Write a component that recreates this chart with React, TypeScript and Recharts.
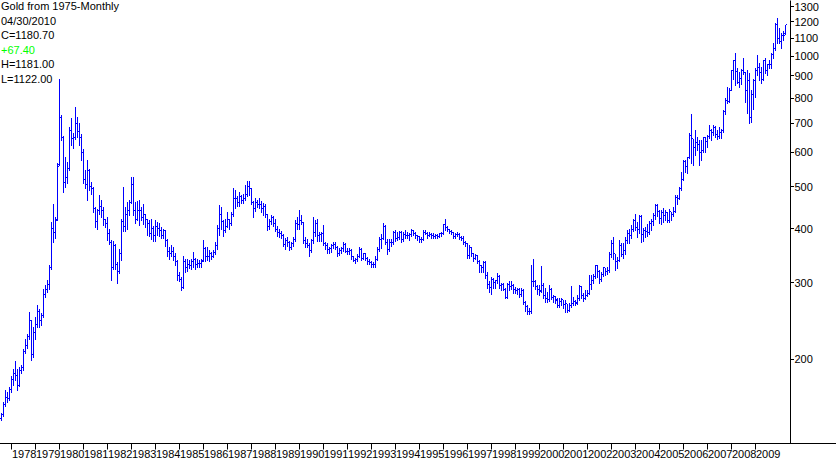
import React from 'react'
import { ComposedChart, Bar, Line, XAxis, YAxis } from 'recharts'

// ─── Layout / style ───────────────────────────────────────────────────────
const WIDTH = 836
const HEIGHT = 461
const BAR_COLOR = '#0000ff'
const FONT = '"Liberation Sans", Arial, sans-serif'

// ─── Data ─────────────────────────────────────────────────────────────────
// monthly bars, first one is Aug 1977
const START_YEAR = 1977
const START_MONTH = 8

const YEAR_TICKS = [
  1978, 1979, 1980, 1981, 1982, 1983, 1984, 1985, 1986, 1987, 1988, 1989, 1990, 1991, 1992, 1993,
  1994, 1995, 1996, 1997, 1998, 1999, 2000, 2001, 2002, 2003, 2004, 2005, 2006, 2007, 2008, 2009,
]
const PRICE_TICKS = [200, 300, 400, 500, 600, 700, 800, 900, 1000, 1100, 1200, 1300]
const PRICE_DOMAIN = [127.7, 1344]

const HEADER = ['Gold from 1975-Monthly', '04/30/2010', 'C=1180.70', '+67.40', 'H=1181.00', 'L=1122.00']

const OPEN = [
  146, 149, 157, 163, 162,
  170, 179, 185, 183, 174, 188, 191, 208, 215, 226, 245, 205,
  230, 240, 257, 245, 252, 282, 290, 298, 325, 400, 392, 420,
  562, 720, 650, 510, 525, 550, 675, 645, 650, 700, 670, 650,
  600, 520, 505, 545, 500, 495, 445, 415, 440, 450, 440, 420,
  410, 390, 372, 325, 365, 330, 318, 350, 415, 405, 430, 440,
  460, 505, 440, 420, 440, 440, 425, 430, 420, 410, 390, 400,
  385, 405, 400, 395, 385, 395, 375, 355, 350, 355, 345, 335,
  312, 305, 293, 335, 325, 330, 328, 335, 340, 330, 333, 332,
  338, 360, 345, 345, 350, 345, 352, 365, 400, 430, 415, 395,
  405, 420, 410, 430, 470, 470, 460, 475, 465, 470, 480, 500,
  495, 460, 445, 460, 455, 455, 445, 450, 430, 405, 415, 425,
  412, 398, 392, 390, 385, 368, 375, 372, 362, 370, 378, 412,
  408, 418, 414, 375, 370, 366, 356, 375, 392, 412, 385, 388,
  390, 370, 365, 358, 360, 365, 368, 362, 350, 356, 360, 368,
  355, 354, 356, 344, 338, 340, 345, 358, 342, 350, 342, 336,
  334, 330, 330, 340, 358, 378, 380, 405, 372, 358, 372, 372,
  392, 380, 382, 392, 377, 388, 386, 385, 387, 396, 390, 385,
  384, 377, 378, 392, 390, 386, 388, 385, 384, 385, 384, 389,
  389, 408, 402, 398, 394, 392, 384, 387, 388, 381, 380, 372,
  370, 346, 362, 350, 342, 346, 336, 328, 326, 334, 312, 298,
  292, 305, 300, 303, 310, 295, 298, 290, 278, 298, 294, 296,
  290, 288, 290, 282, 288, 270, 264, 258, 257, 302, 302, 294,
  290, 288, 295, 280, 276, 274, 290, 278, 279, 273, 266, 271,
  274, 267, 268, 259, 266, 268, 272, 270, 276, 294, 280, 276,
  280, 284, 298, 304, 310, 328, 318, 305, 313, 325, 318, 320,
  348, 370, 350, 336, 338, 365, 348, 356, 376, 390, 386, 398,
  417, 402, 398, 427, 388, 396, 394, 392, 410, 416, 428, 452,
  438, 423, 436, 428, 436, 417, 437, 430, 438, 472, 470, 496,
  518, 570, 557, 585, 655, 645, 615, 633, 625, 600, 605, 648,
  635, 652, 672, 668, 683, 660, 652, 668, 672, 745, 790, 785,
  835, 925, 975, 920, 870, 888, 925, 915, 832, 880, 720, 815,
  880, 928, 942, 918, 885, 978, 928, 955, 955, 1008, 1042, 1180,
  1097, 1082, 1118, 1125,
]

const HIGH = [
  150, 159, 170, 168, 172,
  183, 190, 198, 190, 192, 194, 211, 222, 229, 257, 246, 237,
  250, 266, 261, 256, 290, 296, 305, 330, 415, 455, 425, 566,
  886, 730, 655, 586, 570, 687, 718, 665, 764, 725, 700, 660,
  610, 546, 576, 550, 512, 500, 448, 445, 478, 465, 448, 422,
  426, 400, 376, 375, 368, 335, 358, 420, 500, 448, 460, 465,
  527, 527, 460, 462, 465, 448, 455, 432, 422, 418, 422, 405,
  418, 415, 412, 404, 400, 398, 378, 363, 367, 363, 352, 338,
  318, 310, 345, 340, 340, 338, 340, 354, 342, 340, 338, 340,
  376, 362, 363, 357, 354, 357, 373, 407, 453, 449, 418, 422,
  437, 422, 437, 496, 492, 476, 487, 478, 482, 505, 515, 515,
  496, 462, 470, 466, 470, 462, 458, 455, 432, 420, 430, 428,
  420, 405, 400, 395, 388, 380, 382, 375, 372, 382, 418, 425,
  442, 430, 415, 382, 378, 370, 378, 425, 418, 420, 392, 392,
  408, 372, 370, 363, 368, 372, 372, 364, 360, 362, 372, 370,
  360, 360, 358, 346, 343, 350, 363, 360, 352, 352, 344, 340,
  336, 335, 345, 362, 382, 388, 412, 408, 378, 378, 378, 395,
  396, 392, 395, 395, 392, 398, 392, 390, 400, 398, 393, 387,
  385, 382, 396, 396, 392, 392, 390, 390, 388, 388, 390, 392,
  410, 422, 406, 400, 397, 393, 390, 392, 390, 385, 385, 375,
  370, 366, 362, 352, 350, 348, 338, 330, 336, 336, 318, 302,
  310, 308, 305, 316, 312, 300, 300, 292, 300, 302, 302, 298,
  294, 292, 292, 292, 290, 272, 266, 262, 330, 340, 305, 296,
  296, 328, 299, 291, 286, 297, 292, 281, 280, 276, 276, 276,
  274, 273, 268, 269, 295, 278, 273, 281, 297, 295, 284, 289,
  289, 312, 312, 315, 330, 330, 321, 318, 327, 325, 327, 354,
  377, 383, 350, 344, 377, 370, 370, 383, 397, 400, 408, 422,
  433, 414, 430, 430, 401, 404, 410, 417, 421, 434, 457, 457,
  441, 441, 447, 441, 438, 445, 438, 448, 478, 478, 500, 541,
  576, 576, 586, 664, 734, 645, 675, 652, 640, 640, 652, 652,
  658, 693, 680, 693, 690, 675, 687, 680, 751, 799, 850, 843,
  929, 980, 1015, 937, 921, 935, 988, 921, 929, 916, 835, 888,
  937, 1006, 962, 945, 980, 988, 961, 980, 1015, 1070, 1195, 1226,
  1163, 1128, 1140, 1181,
]

const LOW = [
  145, 148, 156, 159, 161,
  168, 174, 179, 170, 173, 186, 189, 206, 212, 223, 199, 202,
  223, 237, 237, 240, 250, 278, 285, 290, 322, 372, 380, 418,
  560, 640, 487, 500, 510, 545, 624, 615, 645, 652, 624, 576,
  509, 495, 466, 491, 480, 437, 404, 400, 433, 426, 408, 404,
  376, 368, 305, 322, 322, 300, 316, 338, 395, 395, 400, 430,
  458, 430, 412, 418, 407, 418, 410, 404, 387, 384, 378, 375,
  375, 387, 384, 381, 380, 365, 345, 340, 345, 338, 330, 305,
  303, 289, 292, 318, 320, 324, 322, 326, 322, 326, 326, 326,
  336, 336, 338, 336, 341, 344, 350, 359, 387, 400, 384, 392,
  404, 400, 408, 428, 447, 450, 452, 458, 458, 465, 475, 478,
  455, 425, 440, 448, 447, 438, 430, 425, 398, 400, 410, 405,
  395, 385, 383, 380, 365, 358, 365, 357, 358, 365, 375, 400,
  400, 410, 370, 362, 362, 345, 354, 370, 385, 375, 375, 375,
  366, 358, 352, 352, 354, 360, 358, 346, 347, 352, 356, 353,
  350, 350, 340, 336, 334, 337, 344, 338, 340, 338, 332, 332,
  327, 326, 326, 338, 355, 360, 378, 368, 350, 355, 364, 368,
  375, 376, 378, 372, 374, 380, 380, 376, 385, 386, 380, 376,
  372, 372, 376, 388, 381, 384, 381, 380, 380, 380, 382, 384,
  388, 398, 394, 390, 388, 380, 380, 384, 378, 376, 368, 365,
  342, 342, 346, 336, 340, 334, 318, 318, 318, 308, 292, 286,
  282, 292, 292, 300, 292, 288, 288, 276, 276, 288, 290, 284,
  284, 282, 278, 279, 268, 258, 254, 254, 255, 295, 290, 282,
  281, 286, 276, 271, 271, 272, 275, 271, 269, 264, 264, 266,
  262, 257, 257, 258, 264, 266, 266, 268, 274, 276, 272, 275,
  279, 283, 290, 299, 308, 310, 299, 303, 311, 313, 315, 318,
  344, 341, 321, 325, 336, 346, 342, 350, 370, 370, 380, 395,
  398, 383, 390, 373, 374, 382, 385, 388, 398, 408, 422, 427,
  412, 410, 415, 418, 414, 415, 418, 428, 436, 457, 468, 491,
  518, 540, 537, 582, 566, 561, 592, 607, 561, 576, 602, 602,
  618, 648, 640, 658, 652, 643, 648, 646, 670, 737, 778, 785,
  835, 888, 857, 866, 850, 862, 910, 785, 738, 700, 706, 755,
  805, 905, 881, 867, 880, 913, 905, 937, 940, 988, 1035, 1075,
  1075, 1045, 1088, 1122,
]

const CLOSE = [
  149, 157, 163, 162, 170,
  179, 185, 183, 174, 188, 191, 208, 215, 226, 245, 205, 230,
  240, 257, 245, 252, 282, 290, 298, 325, 400, 392, 418, 555,
  720, 650, 510, 525, 550, 675, 645, 650, 700, 670, 650, 600,
  520, 505, 545, 500, 495, 445, 415, 440, 450, 440, 420, 410,
  390, 372, 325, 365, 330, 318, 350, 415, 405, 430, 440, 460,
  505, 440, 420, 440, 440, 425, 430, 420, 410, 390, 400, 385,
  405, 400, 395, 385, 395, 375, 355, 350, 355, 345, 335, 312,
  305, 293, 335, 325, 330, 328, 335, 340, 330, 333, 332, 335,
  360, 345, 345, 350, 345, 352, 365, 400, 430, 415, 395, 405,
  420, 410, 430, 470, 470, 460, 475, 465, 470, 480, 500, 495,
  460, 445, 460, 455, 455, 445, 450, 430, 405, 415, 425, 412,
  398, 392, 390, 385, 368, 375, 372, 362, 370, 378, 412, 408,
  418, 414, 375, 370, 366, 356, 375, 392, 412, 385, 388, 390,
  370, 365, 358, 360, 365, 368, 362, 350, 356, 360, 368, 355,
  354, 356, 344, 338, 340, 345, 358, 342, 350, 342, 336, 334,
  330, 330, 340, 358, 378, 380, 405, 372, 358, 372, 372, 392,
  380, 382, 392, 377, 388, 386, 385, 387, 396, 390, 385, 384,
  377, 378, 392, 390, 386, 388, 385, 384, 385, 384, 389, 389,
  408, 402, 398, 394, 392, 384, 387, 388, 381, 380, 372, 370,
  346, 362, 350, 342, 346, 336, 328, 326, 334, 312, 298, 292,
  305, 300, 303, 310, 295, 298, 290, 278, 298, 294, 296, 290,
  288, 290, 282, 288, 270, 264, 258, 257, 302, 302, 294, 290,
  286, 295, 280, 276, 274, 290, 278, 279, 275, 266, 271, 274,
  267, 268, 259, 266, 268, 272, 268, 276, 294, 280, 276, 280,
  284, 298, 304, 310, 328, 318, 305, 313, 325, 318, 320, 348,
  370, 350, 336, 338, 365, 348, 356, 376, 390, 386, 398, 417,
  402, 398, 427, 388, 396, 394, 392, 410, 416, 428, 452, 438,
  423, 436, 428, 436, 417, 437, 430, 438, 472, 470, 496, 518,
  570, 557, 585, 655, 645, 615, 633, 625, 600, 605, 648, 635,
  652, 672, 668, 683, 660, 652, 668, 672, 745, 790, 785, 835,
  925, 975, 920, 870, 888, 925, 915, 832, 880, 720, 815, 880,
  928, 942, 918, 885, 978, 928, 955, 955, 1008, 1042, 1180, 1097,
  1082, 1118, 1113, 1180.7,
]

// ─── Chart rows ───────────────────────────────────────────────────────────
function monthKey(i: number) {
  const t = START_MONTH - 1 + i
  const y = START_YEAR + Math.floor(t / 12)
  const m = (t % 12) + 1
  return `${y}-${String(m).padStart(2, '0')}`
}

const data = CLOSE.map((c, i) => ({
  month: monthKey(i),
  range: [LOW[i], HIGH[i]],
  open: OPEN[i],
  close: c,
}))

const xTicks = YEAR_TICKS.map((y) => `${y}-01`)

// ─── Shapes ───────────────────────────────────────────────────────────────
// high-low stem, 1px wide
function Stem(props: any) {
  const { x, y, width, height } = props
  if (x == null || y == null) return null
  const cx = Math.floor(x + width / 2)
  const top = Math.round(Math.min(y, y + height))
  const bottom = Math.round(Math.max(y, y + height))
  return <rect x={cx} y={top} width={1} height={Math.max(1, bottom - top + 1)} fill={BAR_COLOR} />
}

// open tick on the left, close tick on the right
const openTick = (p: any) => (
  <rect key={`o${p.index}`} x={Math.floor(p.cx) - 1} y={Math.floor(p.cy)} width={1} height={1} fill={BAR_COLOR} />
)
const closeTick = (p: any) => (
  <rect key={`c${p.index}`} x={Math.floor(p.cx) + 1} y={Math.floor(p.cy)} width={1} height={1} fill={BAR_COLOR} />
)

function YearTick({ x, y, payload }: any) {
  return (
    <text x={Math.floor(x) + 1} y={y + 8.5} fontSize={11} fontFamily={FONT} fill="#000">
      {String(payload.value).slice(0, 4)}
    </text>
  )
}

export default function App() {
  return (
    <div style={{ position: 'absolute', left: 0, top: 0, width: WIDTH, height: HEIGHT, background: '#fff' }}>
      <ComposedChart
        width={WIDTH}
        height={HEIGHT}
        data={data}
        margin={{ top: 0.5, right: 0, bottom: 0, left: 0.5 }}
        barCategoryGap={0}
        barGap={0}
      >
        <XAxis
          dataKey="month"
          type="category"
          ticks={xTicks}
          interval={0}
          height={17.5}
          padding={{ left: 0, right: 4 }}
          tickSize={6}
          tickMargin={0}
          axisLine={{ stroke: '#000' }}
          tickLine={{ stroke: '#000' }}
          tick={<YearTick />}
        />
        <YAxis
          orientation="right"
          scale="log"
          type="number"
          domain={PRICE_DOMAIN}
          allowDataOverflow
          ticks={PRICE_TICKS}
          interval={0}
          width={45.5}
          tickSize={3}
          tickMargin={1}
          axisLine={{ stroke: '#000' }}
          tickLine={{ stroke: '#000', shapeRendering: 'crispEdges' }}
          tick={{ fill: '#000', fontSize: 11, fontFamily: FONT }}
        />
        <Bar dataKey="range" shape={<Stem />} isAnimationActive={false} />
        <Line dataKey="open" stroke="none" dot={openTick} activeDot={false} isAnimationActive={false} />
        <Line dataKey="close" stroke="none" dot={closeTick} activeDot={false} isAnimationActive={false} />
      </ComposedChart>
      <svg
        width={WIDTH}
        height={HEIGHT}
        style={{ position: 'absolute', left: 0, top: 0, pointerEvents: 'none' }}
      >
        <line x1={0} x2={WIDTH} y1={443.5} y2={443.5} stroke="#000" />
        {HEADER.map((t, i) => (
          <text
            key={t}
            x={1}
            y={10 + i * 14.6}
            fontSize={11}
            fontFamily={FONT}
            fill={t.startsWith('+') ? '#00ff00' : '#000'}
          >
            {t}
          </text>
        ))}
      </svg>
    </div>
  )
}
